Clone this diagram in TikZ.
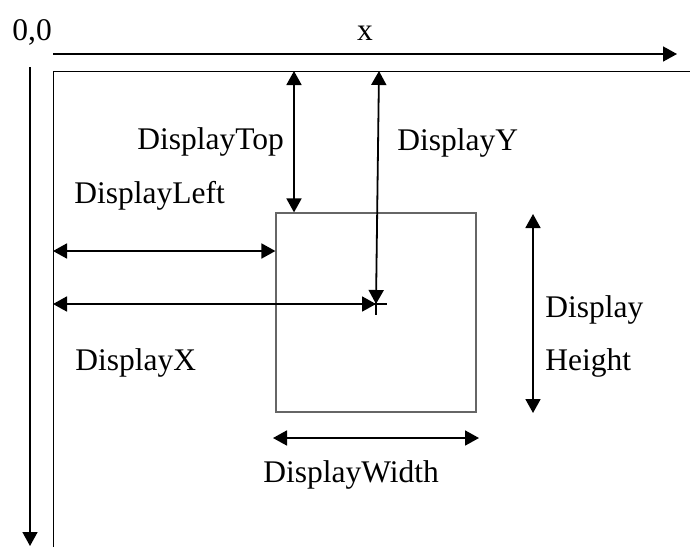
\documentclass[tikz,border=0pt]{standalone}
\usepackage{fontspec}
\setmainfont{Liberation Serif}
\usetikzlibrary{positioning,arrows.meta}

\begin{document}
\begin{tikzpicture}[
  x=0.5pt, y=-0.5pt,
  txt/.style={anchor=base west, inner sep=0pt, font=\fontsize{15.75}{18}\selectfont},
  axis/.style={-{Triangle[length=7pt,width=7.5pt]}, line width=0.8pt},
  dim/.style={{Triangle[length=7pt,width=7.5pt]}-{Triangle[length=7pt,width=7.5pt]}, line width=0.9pt},
  tip/.style={-{Triangle[length=7pt,width=7.5pt]}, line width=0.9pt},
  screen/.style={draw=black!60, line width=0.6pt, minimum width=100pt, minimum height=99.5pt, inner sep=0pt}
]
\useasboundingbox (0,0) rectangle (690,547);
% screen and window
\coordinate (org) at (53,71);
\draw[line width=0.5pt] (53,547) -- (org) -- (690,71);
\node[screen] (win) at (376,312.5) {};
\coordinate (cross) at (376,304);
\draw[line width=0.6pt] ([xshift=-5.5pt]cross) -- ([xshift=5.5pt]cross)
  ([yshift=5.5pt]cross) -- ([yshift=-5.5pt]cross);
% axes
\node[txt] (zero) at (12,40) {0,0};
\node[txt, anchor=base] (xlab) at (365,40) {x};
\coordinate (xs) at (53,54);
\coordinate (xe) at (677,54);
\coordinate (ys) at (30,67);
\coordinate (ye) at (30,546);
\draw[axis] (xs) -- (xe);
\draw[axis] (ys) -- (ye);
% dimensions
\coordinate (topT) at (294,71);
\coordinate (topY) at (379,71);
\coordinate (leftL) at (53,251);
\coordinate (wl) at (273,438);
\coordinate (wr) at (479,438);
\coordinate (ht) at (533,214);
\coordinate (hb) at (533,413);
\draw[dim] (topT) -- (topT |- win.north);
\draw[dim] (topY) -- (cross);
\draw[dim] (leftL) -- (leftL -| win.west);
\draw[dim] (cross -| org) -- (cross);
\draw[dim] (wl) -- (wr);
\draw[dim] (ht) -- (hb);
% labels
\node[txt] (ltop) at (137,149) {DisplayTop};
\node[txt] (ly) at (397,150) {DisplayY};
\node[txt] (lleft) at (74,203) {DisplayLeft};
\node[txt] (lx) at (75,370) {DisplayX};
\node[txt] (lh1) at (545,317) {Display};
\node[txt] (lh2) at (545,370) {Height};
\node[txt] (lw) at (263,482) {DisplayWidth};
\end{tikzpicture}
\end{document}
